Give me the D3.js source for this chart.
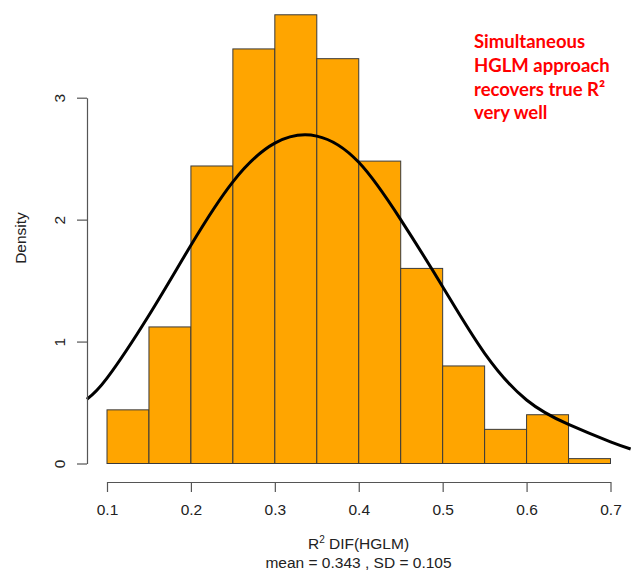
<!DOCTYPE html>
<html>
<head>
<meta charset="utf-8">
<script src="https://cdn.jsdelivr.net/npm/d3@7"></script>
<style>
  body { margin: 0; background: #fff; }
  svg { display: block; }
</style>
</head>
<body>
<div id="chart"></div>
<script>
// histogram bins (lower edges) and densities
const binStarts = [0.10, 0.15, 0.20, 0.25, 0.30, 0.35, 0.40, 0.45, 0.50, 0.55, 0.60, 0.65];
const binWidth = 0.05;
const densities = [0.44, 1.12, 2.44, 3.40, 3.68, 3.32, 2.48, 1.60, 0.80, 0.28, 0.40, 0.04];

// fitted curve
const curveX = [0.076, 0.10, 0.15, 0.20, 0.25, 0.30, 0.35, 0.40, 0.45, 0.50, 0.55, 0.60, 0.65, 0.70, 0.724];
const curveY = [0.527, 0.70, 1.216, 1.79, 2.31, 2.627, 2.685, 2.47, 2.00, 1.45, 0.904, 0.521, 0.32, 0.178, 0.119];

const xTicks = [0.1, 0.2, 0.3, 0.4, 0.5, 0.6, 0.7];
const yTicks = [0, 1, 2, 3];
const noteLines = ["Simultaneous", "HGLM approach", "recovers true R²", "very well"];

const width = 637, height = 573;
const axisColor = "#555";
const textColor = "#222";
const font = "'Liberation Sans', Arial, sans-serif";

const svg = d3.select("#chart").append("svg")
    .attr("width", width)
    .attr("height", height);

// scales
const x = d3.scaleLinear().domain([0.1, 0.7]).range([107, 610.5]);
const y = d3.scaleLinear().domain([0, 3]).range([463.5, 97.7]);

// bars
svg.append("g").selectAll("rect")
    .data(binStarts)
    .enter().append("rect")
    .attr("x", d => x(d))
    .attr("width", d => x(d + binWidth) - x(d))
    .attr("y", (d, i) => y(densities[i]))
    .attr("height", (d, i) => y(0) - y(densities[i]))
    .attr("fill", "#FFA500")
    .attr("stroke", "#3a3a3a")
    .attr("stroke-width", 1);

// curve
const line = d3.line()
    .x(d => x(d[0]))
    .y(d => y(d[1]))
    .curve(d3.curveNatural);

svg.append("path")
    .datum(curveX.map((v, i) => [v, curveY[i]]))
    .attr("d", line)
    .attr("fill", "none")
    .attr("stroke", "#000")
    .attr("stroke-width", 3);

// x axis
const xAxis = svg.append("g")
    .attr("transform", "translate(0,482)")
    .call(d3.axisBottom(x).tickValues(xTicks).tickFormat(d3.format(".1f")).tickSize(10).tickSizeOuter(0))
    .call(g => g.select(".domain").attr("stroke", axisColor).attr("stroke-width", 1.2));
xAxis.selectAll(".tick line").attr("stroke", axisColor).attr("stroke-width", 1.2);
xAxis.selectAll(".tick text")
    .attr("y", 22)
    .attr("fill", textColor)
    .style("font-family", font)
    .style("font-size", "15.5px");

// y axis
const yAxis = svg.append("g")
    .attr("transform", "translate(87,0)")
    .call(d3.axisLeft(y).tickValues(yTicks).tickFormat(d3.format("d")).tickSize(10).tickSizeOuter(0))
    .call(g => g.select(".domain").attr("stroke", axisColor).attr("stroke-width", 1.2));
yAxis.selectAll(".tick line").attr("stroke", axisColor).attr("stroke-width", 1.2);
yAxis.selectAll(".tick text")
    .attr("x", 0).attr("y", 0).attr("dy", 0)
    .attr("transform", "translate(-22,0) rotate(-90)")
    .attr("text-anchor", "middle")
    .attr("fill", textColor)
    .style("font-family", font)
    .style("font-size", "15.5px");

// axis titles
svg.append("text")
    .attr("transform", "translate(26,238) rotate(-90)")
    .attr("text-anchor", "middle")
    .attr("fill", textColor)
    .style("font-family", font)
    .style("font-size", "15.5px")
    .text("Density");

const xlab = svg.append("text")
    .attr("x", 358.5).attr("y", 549)
    .attr("text-anchor", "middle")
    .attr("fill", textColor)
    .style("font-family", font)
    .style("font-size", "15.5px");
xlab.append("tspan").text("R");
xlab.append("tspan").attr("dy", -6).style("font-size", "10px").text("2");
xlab.append("tspan").attr("dy", 6).text(" DIF(HGLM)");

svg.append("text")
    .attr("x", 358.5).attr("y", 568)
    .attr("text-anchor", "middle")
    .attr("fill", textColor)
    .style("font-family", font)
    .style("font-size", "15.5px")
    .text("mean = 0.343 , SD = 0.105");

// red note
svg.append("g").selectAll("text")
    .data(noteLines)
    .enter().append("text")
    .attr("x", 474)
    .attr("y", (d, i) => 48.3 + i * 23.7)
    .attr("fill", "#FF0000")
    .style("font-family", "Lato, 'Open Sans', sans-serif")
    .style("font-weight", "bold")
    .style("font-size", "18.5px")
    .text(d => d);
</script>
</body>
</html>
